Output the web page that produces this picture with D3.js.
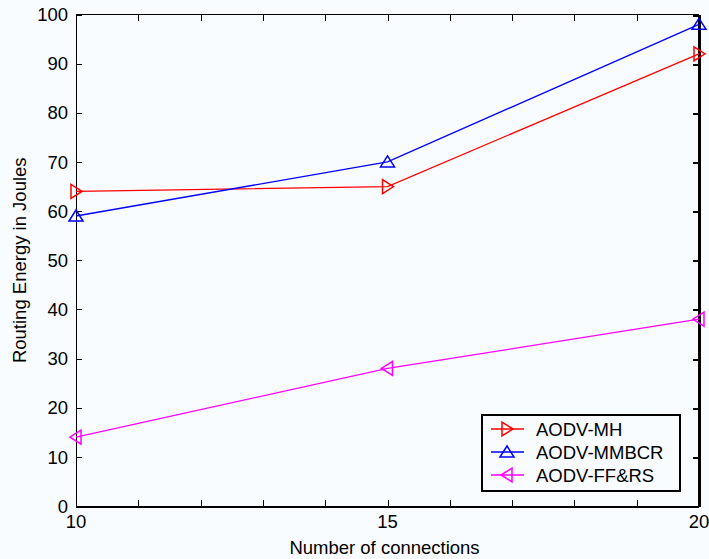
<!DOCTYPE html>
<html>
<head>
<meta charset="utf-8">
<script src="https://cdn.jsdelivr.net/npm/d3@7"></script>
<style>
	body { margin: 0; background: #f9fcfe; }
	svg { display: block; font-family: "Liberation Sans", Arial, sans-serif; }
</style>
</head>
<body>
<svg id="chart" width="709" height="559"></svg>
<script>

// values
var connections = [10, 15, 20];
var mhEnergy = [64, 65, 92];
var mmbcrEnergy = [59, 70, 98];
var ffrsEnergy = [14, 28, 38];

var xTickValues = [10, 11, 12, 13, 14, 15, 16, 17, 18, 19, 20];
var xTickLabels = [10, 15, 20];
var yTickValues = [0, 10, 20, 30, 40, 50, 60, 70, 80, 90, 100];

var seriesList = [
	{name: 'AODV-MH', values: mhEnergy, color: '#ff0000', marker: 'right'},
	{name: 'AODV-MMBCR', values: mmbcrEnergy, color: '#0000ff', marker: 'up'},
	{name: 'AODV-FF&RS', values: ffrsEnergy, color: '#ff00ff', marker: 'left'}
];

var plot = {left: 76, right: 699, top: 14.5, bottom: 506};
var fontSize = 18.5;

var svg = d3.select('#chart');

var x = d3.scaleLinear().domain([10, 20]).range([plot.left, plot.right]);
var y = d3.scaleLinear().domain([0, 100]).range([plot.bottom, plot.top]);

// triangle markers, like matlab's >, ^ and <
function markerPath(kind) {
	if (kind === 'up') {
		return 'M0,-6 L7,5 L-7,5 Z';
	} else if (kind === 'right') {
		return 'M6,0 L-5,-7 L-5,7 Z';
	} else {
		return 'M-6,0 L5,-7 L5,7 Z';
	}
}

// inward ticks
var tickLen = 6;
var axes = svg.append('g').attr('stroke', '#000').attr('shape-rendering', 'crispEdges');

axes.selectAll('line.xb').data(xTickValues).enter().append('line')
	.attr('x1', function(d) { return Math.round(x(d)) + 0.5; })
	.attr('x2', function(d) { return Math.round(x(d)) + 0.5; })
	.attr('y1', plot.bottom).attr('y2', plot.bottom - tickLen);
axes.selectAll('line.xt').data(xTickValues).enter().append('line')
	.attr('x1', function(d) { return Math.round(x(d)) + 0.5; })
	.attr('x2', function(d) { return Math.round(x(d)) + 0.5; })
	.attr('y1', plot.top).attr('y2', plot.top + tickLen);
axes.selectAll('line.yl').data(yTickValues).enter().append('line')
	.attr('x1', plot.left).attr('x2', plot.left + tickLen)
	.attr('y1', function(d) { return Math.round(y(d)) + 0.5; })
	.attr('y2', function(d) { return Math.round(y(d)) + 0.5; });
axes.selectAll('line.yr').data(yTickValues).enter().append('line')
	.attr('x1', plot.right).attr('x2', plot.right - tickLen)
	.attr('y1', function(d) { return Math.round(y(d)) + 0.5; })
	.attr('y2', function(d) { return Math.round(y(d)) + 0.5; })
	.attr('stroke-width', 2);

// box
axes.append('line').attr('x1', plot.left + 0.5).attr('x2', plot.left + 0.5).attr('y1', plot.top).attr('y2', plot.bottom + 1);
axes.append('line').attr('x1', plot.left).attr('x2', plot.right).attr('y1', plot.bottom + 0.5).attr('y2', plot.bottom + 0.5).attr('stroke-width', 2);
axes.append('line').attr('x1', plot.left).attr('x2', plot.right).attr('y1', plot.top).attr('y2', plot.top);
axes.append('line').attr('x1', plot.right).attr('x2', plot.right).attr('y1', plot.top).attr('y2', plot.bottom + 1).attr('stroke-width', 3);

// tick labels
svg.append('g').selectAll('text').data(yTickValues).enter().append('text')
	.attr('x', plot.left - 8)
	.attr('y', function(d) { return y(d); })
	.attr('dy', '0.36em')
	.attr('text-anchor', 'end')
	.attr('font-size', fontSize)
	.text(function(d) { return d; });

svg.append('g').selectAll('text').data(xTickLabels).enter().append('text')
	.attr('x', function(d) { return x(d); })
	.attr('y', plot.bottom + 22)
	.attr('text-anchor', 'middle')
	.attr('font-size', fontSize)
	.text(function(d) { return d; });

// axis titles
svg.append('text')
	.attr('x', (plot.left + plot.right) / 2 - 3)
	.attr('y', 554)
	.attr('text-anchor', 'middle')
	.attr('font-size', fontSize)
	.text('Number of connections');

svg.append('text')
	.attr('transform', 'translate(26,' + ((plot.top + plot.bottom) / 2) + ') rotate(-90)')
	.attr('text-anchor', 'middle')
	.attr('font-size', fontSize)
	.text('Routing Energy in Joules');

// lines and markers
var lineGen = d3.line()
	.x(function(d, i) { return x(connections[i]); })
	.y(function(d) { return y(d); });

seriesList.forEach(function(s) {
	svg.append('path')
		.attr('d', lineGen(s.values))
		.attr('fill', 'none')
		.attr('stroke', s.color)
		.attr('stroke-width', 1.3);

	svg.append('g').selectAll('path').data(s.values).enter().append('path')
		.attr('transform', function(d, i) { return 'translate(' + x(connections[i]) + ',' + y(d) + ')'; })
		.attr('d', markerPath(s.marker))
		.attr('fill', 'none')
		.attr('stroke', s.color)
		.attr('stroke-width', 1.5);
});

// legend
var legend = svg.append('g');
legend.append('rect')
	.attr('x', 482).attr('y', 415)
	.attr('width', 198).attr('height', 76)
	.attr('fill', '#f9fcfe')
	.attr('stroke', '#000')
	.attr('stroke-width', 2);

var legendRows = legend.selectAll('g.row').data(seriesList).enter().append('g')
	.attr('transform', function(d, i) { return 'translate(0,' + (429 + i * 23) + ')'; });

legendRows.append('line')
	.attr('x1', 491).attr('x2', 524)
	.attr('y1', 0).attr('y2', 0)
	.attr('stroke', function(d) { return d.color; })
	.attr('stroke-width', 1.5);
legendRows.append('path')
	.attr('transform', 'translate(507,0)')
	.attr('d', function(d) { return markerPath(d.marker); })
	.attr('fill', 'none')
	.attr('stroke', function(d) { return d.color; })
	.attr('stroke-width', 1.5);
legendRows.append('text')
	.attr('x', 536)
	.attr('dy', '0.36em')
	.attr('font-size', fontSize)
	.text(function(d) { return d.name; });

</script>
</body>
</html>
